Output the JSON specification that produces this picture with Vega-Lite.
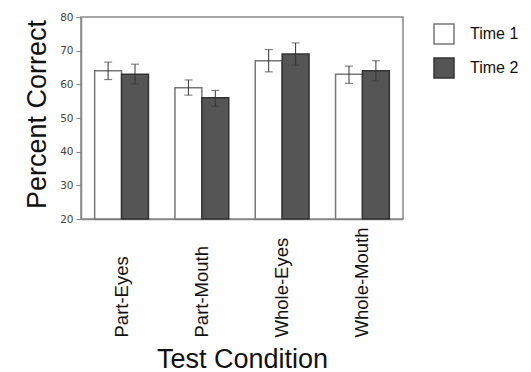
{
  "$schema": "https://vega.github.io/schema/vega-lite/v6.json",
  "width": 322,
  "height": 202,
  "autosize": "none",
  "padding": {"left": 81, "top": 17, "right": 128, "bottom": 153},
  "background": "white",
  "config": {
    "font": "Liberation Sans",
    "view": {"stroke": "#888", "strokeWidth": 1.5},
    "axisY": {
      "tickCount": 7,
      "labelFontSize": 10.5,
      "labelFont": "DejaVu Sans",
      "labelColor": "#444",
      "labelPadding": 3,
      "labelOverlap": false,
      "tickSize": 5,
      "tickColor": "#888",
      "domainColor": "#888",
      "domainWidth": 1.5,
      "grid": false
    }
  },
  "data": {
    "values": [
      {"condition": "Part-Eyes", "time": "Time 1", "pct": 64, "lo": 61.4, "hi": 66.6},
      {"condition": "Part-Eyes", "time": "Time 2", "pct": 63, "lo": 60.1, "hi": 66.0},
      {"condition": "Part-Mouth", "time": "Time 1", "pct": 59, "lo": 56.8, "hi": 61.3},
      {"condition": "Part-Mouth", "time": "Time 2", "pct": 56, "lo": 53.5, "hi": 58.2},
      {"condition": "Whole-Eyes", "time": "Time 1", "pct": 67, "lo": 63.7, "hi": 70.3},
      {"condition": "Whole-Eyes", "time": "Time 2", "pct": 69, "lo": 65.7, "hi": 72.3},
      {"condition": "Whole-Mouth", "time": "Time 1", "pct": 63, "lo": 60.3, "hi": 65.4},
      {"condition": "Whole-Mouth", "time": "Time 2", "pct": 64, "lo": 61.0, "hi": 67.0}
    ]
  },
  "encoding": {
    "x": {
      "field": "condition",
      "type": "nominal",
      "sort": null,
      "scale": {"paddingInner": 0.33, "paddingOuter": 0.17},
      "axis": {
        "title": "Test Condition",
        "titleFontSize": 27,
        "titleFontWeight": "normal",
        "titleColor": "#111",
        "titleY": 148,
        "titleBaseline": "alphabetic",
        "labelAngle": -90,
        "labelAlign": "left",
        "labelBaseline": "middle",
        "labelPadding": 118,
        "labelFontSize": 18.5,
        "labelLimit": 300,
        "labelColor": "#111",
        "ticks": false,
        "domainColor": "#888",
        "domainWidth": 1.5
      }
    },
    "xOffset": {"field": "time", "type": "nominal", "scale": {"paddingInner": 0, "paddingOuter": 0}}
  },
  "layer": [
    {
      "mark": {"type": "bar", "strokeWidth": 1.5},
      "encoding": {
        "y": {
          "field": "pct",
          "type": "quantitative",
          "scale": {"domain": [20, 80], "zero": false, "nice": false},
          "axis": {
            "title": "Percent Correct",
            "titleFontSize": 27,
            "titleFontWeight": "normal",
            "titleColor": "#111",
            "titleAngle": -90,
            "titleAlign": "center",
            "titleBaseline": "alphabetic",
            "titleX": -36,
            "titleY": 97
          }
        },
        "y2": {"datum": 20},
        "fill": {
          "field": "time",
          "type": "nominal",
          "scale": {"domain": ["Time 1", "Time 2"], "range": ["#ffffff", "#555555"]},
          "legend": {
            "title": null,
            "orient": "none",
            "legendX": 352,
            "legendY": 6,
            "symbolType": "square",
            "symbolSize": 400,
            "symbolStrokeColor": "#777",
            "symbolStrokeWidth": 1.5,
            "labelFontSize": 16,
            "labelColor": "#111",
            "labelOffset": 15,
            "rowPadding": 8
          }
        },
        "stroke": {
          "field": "time",
          "type": "nominal",
          "scale": {"domain": ["Time 1", "Time 2"], "range": ["#777777", "#333333"]},
          "legend": null
        }
      }
    },
    {
      "mark": {"type": "rule", "color": "#333", "strokeWidth": 1},
      "encoding": {
        "y": {"field": "lo", "type": "quantitative", "scale": {"domain": [20, 80], "zero": false, "nice": false}},
        "y2": {"field": "hi"}
      }
    },
    {
      "mark": {"type": "tick", "color": "#333", "size": 8, "thickness": 1},
      "encoding": {"y": {"field": "lo", "type": "quantitative", "scale": {"domain": [20, 80], "zero": false, "nice": false}}}
    },
    {
      "mark": {"type": "tick", "color": "#333", "size": 8, "thickness": 1},
      "encoding": {"y": {"field": "hi", "type": "quantitative", "scale": {"domain": [20, 80], "zero": false, "nice": false}}}
    }
  ]
}
